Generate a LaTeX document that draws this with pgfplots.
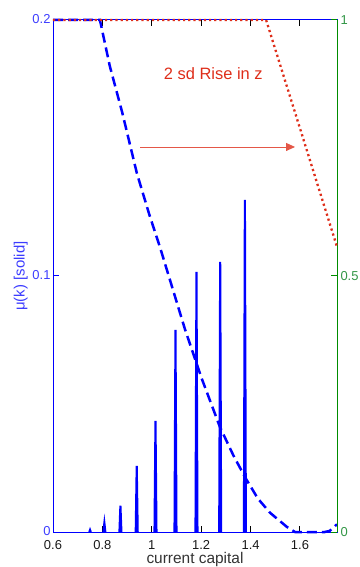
\documentclass[border=0pt]{standalone}
\usepackage{pgfplots}
\pgfplotsset{compat=1.18}
\usepackage{fontspec}
\setmainfont{Liberation Sans}
\usetikzlibrary{arrows.meta}
\definecolor{myblue}{RGB}{0,0,255}
\definecolor{lblue}{RGB}{60,60,255}
\definecolor{mygreen}{RGB}{0,140,0}
\definecolor{lgreen}{RGB}{50,150,70}
\definecolor{myred}{RGB}{222,45,25}
\begin{document}
\begin{tikzpicture}
\begin{axis}[name=ax,
  scale only axis, width=284bp, height=512bp,
  xmin=0.6, xmax=1.75, ymin=0, ymax=0.2,
  xtick={0.6,0.8,1,1.2,1.4,1.6}, ytick={0,0.1,0.2},
  xtick pos=both, ytick pos=left, tick align=inside,
  major tick length=6bp,
  /pgf/number format/assume math mode=true,
  axis line style={line width=1bp},
  y axis line style={myblue},
  tick style={line width=1bp, black},
  ytick style={myblue},
  xticklabel style={font=\fontsize{13}{14}\selectfont, text=black!90, yshift=-5bp},
  yticklabel style={font=\fontsize{13}{14}\selectfont, text=lblue, xshift=1bp, yshift=1bp},
  xlabel={current capital},
  xlabel style={font=\fontsize{15.5}{16}\selectfont, text=black!80, yshift=4bp},
  ylabel={μ(k) [solid]},
  ylabel style={font=\fontsize{15}{16}\selectfont, text=lblue, yshift=-2bp},
  clip=false,
]
% dashed curve
\addplot[myblue, line width=2.5bp, dash pattern=on 10bp off 5bp] coordinates {
(0.6,0.2) (0.79,0.2) (0.83,0.182) (0.88,0.164) (0.94,0.140) (0.99,0.124)
(1.034,0.111) (1.094,0.092) (1.135,0.079) (1.202,0.060) (1.276,0.041)
(1.33,0.030) (1.38,0.021) (1.43,0.013) (1.479,0.0075) (1.547,0.002)
(1.58,0.0) (1.62,0.0) (1.70,0.0) (1.72,0.0004) (1.75,0.003)};
% solid distribution spikes
\addplot[myblue, line width=2.1bp] coordinates {(0.747,0) (0.750,0.0008) (0.753,0)};
\addplot[myblue, line width=2.1bp] coordinates {(0.804,0) (0.808,0.0035) (0.812,0)};
\addplot[myblue, line width=2.1bp] coordinates {(0.869,0) (0.873,0.0103) (0.877,0)};
\addplot[myblue, line width=2.1bp] coordinates {(0.935,0) (0.939,0.0258) (0.943,0)};
\addplot[myblue, line width=2.1bp] coordinates {(1.011,0) (1.015,0.0434) (1.019,0)};
\addplot[myblue, line width=2.1bp] coordinates {(1.092,0) (1.096,0.079) (1.100,0)};
\addplot[myblue, line width=2.1bp] coordinates {(1.177,0) (1.181,0.1016) (1.185,0)};
\addplot[myblue, line width=2.1bp] coordinates {(1.273,0) (1.277,0.1055) (1.281,0)};
\addplot[myblue, line width=2.1bp] coordinates {(1.373,0) (1.377,0.1297) (1.381,0)};
\node[text=myred, font=\fontsize{16.5}{18}\selectfont] at (axis cs:1.249,0.179) {2 sd Rise in z};
\draw[myred!80, line width=0.9bp, -{Triangle[length=9bp,width=8bp]}] (axis cs:0.953,0.1504) -- (axis cs:1.58,0.1504);
\end{axis}
\begin{axis}[
  scale only axis, width=284bp, height=512bp,
  xmin=0.6, xmax=1.75, ymin=0, ymax=1,
  axis x line=none, axis y line*=right,
  ytick={0,0.5,1}, tick align=inside, major tick length=6bp,
  /pgf/number format/assume math mode=true,
  y axis line style={mygreen, line width=1bp, -},
  tick style={line width=1bp, mygreen},
  yticklabel style={font=\fontsize{13}{14}\selectfont, text=lgreen},
  clip=false,
]
\addplot[myred, line width=2.3bp, dash pattern=on 2.2bp off 3bp] coordinates {
(0.6,1) (1.463,1) (1.75,0.557)};
\end{axis}
\pgfresetboundingbox
\path[use as bounding box] ([shift={(-53bp,-35bp)}]ax.south west) rectangle ([shift={(23bp,20bp)}]ax.north east);
\end{tikzpicture}
\end{document}
